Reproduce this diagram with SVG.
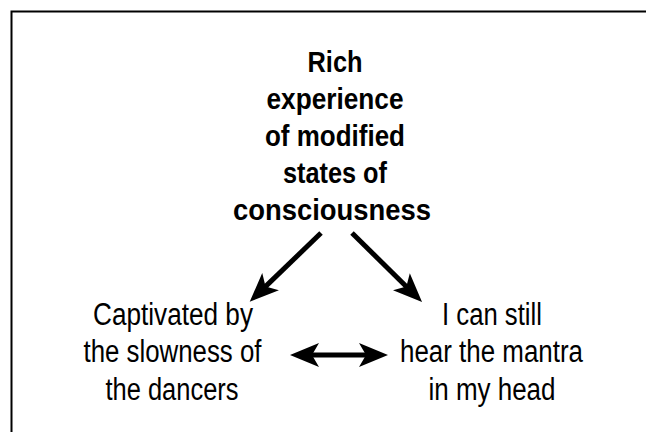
<svg xmlns="http://www.w3.org/2000/svg" width="646" height="432" viewBox="0 0 646 432">
<style>
text{font-family:"Liberation Sans",Arial,sans-serif;font-size:31px;fill:#000;text-anchor:middle}
.b{font-weight:bold;font-size:29px}
.c{stroke:#000;stroke-width:5;fill:none}
</style>
<defs>
<marker id="ah" markerUnits="userSpaceOnUse" markerWidth="32" markerHeight="26" viewBox="0 0 32 26" refX="9" refY="13" orient="auto-start-reverse">
<path d="M29,13 L0,1 L7,13 L0,25 Z" fill="#000"/>
</marker>
</defs>
<rect width="646" height="432" fill="#fff"/>
<path d="M11.5,432 V11.5 H646" fill="none" stroke="#000" stroke-width="2"/>
<g id="top">
<text class="b" x="335" y="72" textLength="55" lengthAdjust="spacingAndGlyphs">Rich</text>
<text class="b" x="335" y="109" textLength="137" lengthAdjust="spacingAndGlyphs">experience</text>
<text class="b" x="335" y="146" textLength="140" lengthAdjust="spacingAndGlyphs">of modified</text>
<text class="b" x="335" y="183" textLength="104" lengthAdjust="spacingAndGlyphs">states of</text>
<text class="b" x="332" y="220" textLength="198" lengthAdjust="spacingAndGlyphs">consciousness</text>
</g>
<g id="left">
<text x="173" y="325" textLength="160" lengthAdjust="spacingAndGlyphs">Captivated by</text>
<text x="172.5" y="362" textLength="178" lengthAdjust="spacingAndGlyphs">the slowness of</text>
<text x="172" y="400" textLength="133" lengthAdjust="spacingAndGlyphs">the dancers</text>
</g>
<g id="right">
<text x="492" y="325" textLength="100" lengthAdjust="spacingAndGlyphs">I can still</text>
<text x="491.5" y="362" textLength="183" lengthAdjust="spacingAndGlyphs">hear the mantra</text>
<text x="492" y="400" textLength="127" lengthAdjust="spacingAndGlyphs">in my head</text>
</g>
<g id="connectors">
<line class="c" x1="321" y1="233" x2="264.1" y2="287.9" marker-end="url(#ah)"/>
<line class="c" x1="352" y1="233" x2="407.8" y2="288" marker-end="url(#ah)"/>
<line class="c" x1="310" y1="355" x2="368" y2="355" marker-start="url(#ah)" marker-end="url(#ah)"/>
</g>
</svg>
